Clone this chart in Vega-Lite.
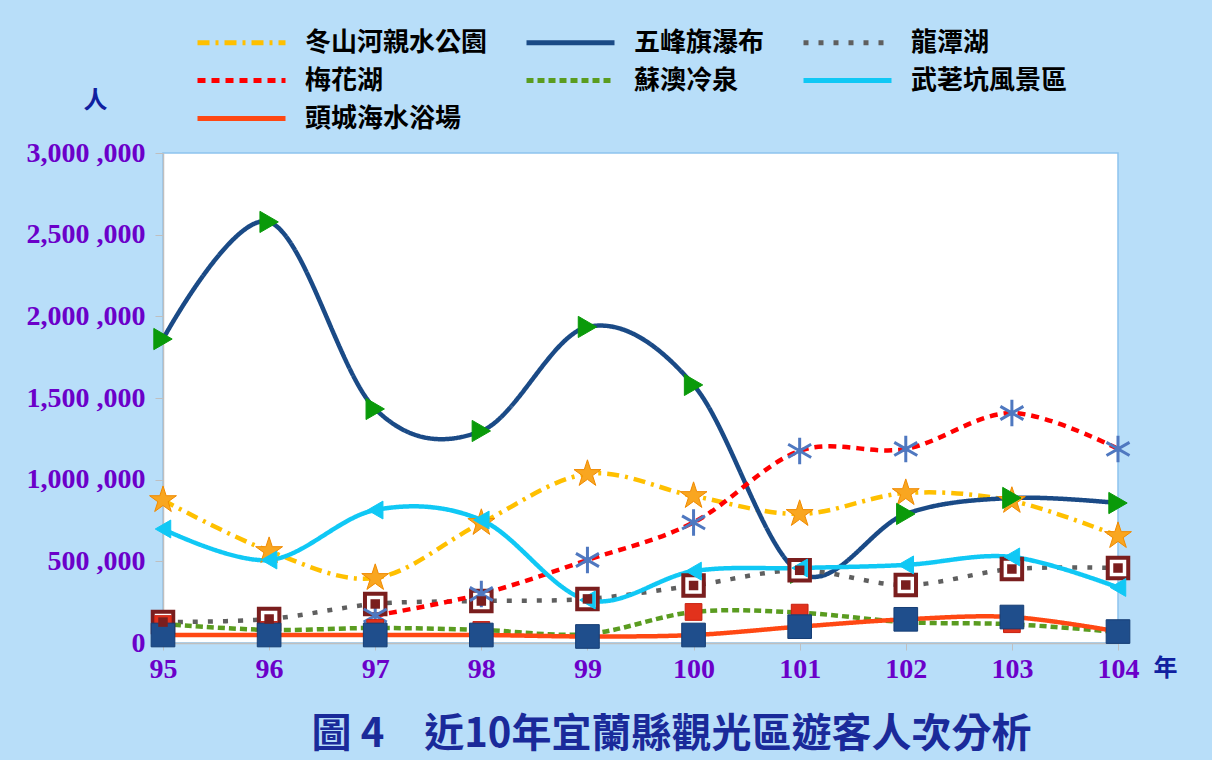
{
  "$schema": "https://vega.github.io/schema/vega-lite/v6.json",
  "width": 955,
  "height": 490,
  "autosize": {"type": "none"},
  "padding": {"left": 163, "top": 153, "right": 94, "bottom": 117},
  "background": "#B8DEF9",
  "config": {
    "view": {"fill": "white", "stroke": "#8DC4EE", "strokeWidth": 1.5},
    "font": "Liberation Serif"
  },
  "title": {
    "text": "圖 4　近10年宜蘭縣觀光區遊客人次分析",
    "orient": "bottom",
    "anchor": "middle",
    "font": "Noto Sans CJK TC",
    "fontSize": 40,
    "fontWeight": "bold",
    "color": "#1A2A9A",
    "offset": 32,
    "dx": 31
  },
  "data": {
    "values": [
      {"year": 95, "site": "冬山河親水公園", "v": 875000},
      {"year": 96, "site": "冬山河親水公園", "v": 563000},
      {"year": 97, "site": "冬山河親水公園", "v": 398000},
      {"year": 98, "site": "冬山河親水公園", "v": 735000},
      {"year": 99, "site": "冬山河親水公園", "v": 1035000},
      {"year": 100, "site": "冬山河親水公園", "v": 900000},
      {"year": 101, "site": "冬山河親水公園", "v": 790000},
      {"year": 102, "site": "冬山河親水公園", "v": 918000},
      {"year": 103, "site": "冬山河親水公園", "v": 870000},
      {"year": 104, "site": "冬山河親水公園", "v": 655000},
      {"year": 95, "site": "五峰旗瀑布", "v": 1861000},
      {"year": 96, "site": "五峰旗瀑布", "v": 2578000},
      {"year": 97, "site": "五峰旗瀑布", "v": 1433000},
      {"year": 98, "site": "五峰旗瀑布", "v": 1298000},
      {"year": 99, "site": "五峰旗瀑布", "v": 1935000},
      {"year": 100, "site": "五峰旗瀑布", "v": 1580000},
      {"year": 101, "site": "五峰旗瀑布", "v": 430000},
      {"year": 102, "site": "五峰旗瀑布", "v": 790000},
      {"year": 103, "site": "五峰旗瀑布", "v": 888000},
      {"year": 104, "site": "五峰旗瀑布", "v": 857000},
      {"year": 95, "site": "龍潭湖", "v": 128000},
      {"year": 96, "site": "龍潭湖", "v": 147000},
      {"year": 97, "site": "龍潭湖", "v": 239000},
      {"year": 98, "site": "龍潭湖", "v": 257000},
      {"year": 99, "site": "龍潭湖", "v": 270000},
      {"year": 100, "site": "龍潭湖", "v": 352000},
      {"year": 101, "site": "龍潭湖", "v": 445000},
      {"year": 102, "site": "龍潭湖", "v": 355000},
      {"year": 103, "site": "龍潭湖", "v": 453000},
      {"year": 104, "site": "龍潭湖", "v": 459000},
      {"year": 97, "site": "梅花湖", "v": 168000},
      {"year": 98, "site": "梅花湖", "v": 300000},
      {"year": 99, "site": "梅花湖", "v": 508000},
      {"year": 100, "site": "梅花湖", "v": 738000},
      {"year": 101, "site": "梅花湖", "v": 1176000},
      {"year": 102, "site": "梅花湖", "v": 1188000},
      {"year": 103, "site": "梅花湖", "v": 1408000},
      {"year": 104, "site": "梅花湖", "v": 1188000},
      {"year": 95, "site": "蘇澳冷泉", "v": 116000},
      {"year": 96, "site": "蘇澳冷泉", "v": 80000},
      {"year": 97, "site": "蘇澳冷泉", "v": 92000},
      {"year": 98, "site": "蘇澳冷泉", "v": 80000},
      {"year": 99, "site": "蘇澳冷泉", "v": 55000},
      {"year": 100, "site": "蘇澳冷泉", "v": 190000},
      {"year": 101, "site": "蘇澳冷泉", "v": 186000},
      {"year": 102, "site": "蘇澳冷泉", "v": 128000},
      {"year": 103, "site": "蘇澳冷泉", "v": 115000},
      {"year": 104, "site": "蘇澳冷泉", "v": 67000},
      {"year": 95, "site": "武荖坑風景區", "v": 698000},
      {"year": 96, "site": "武荖坑風景區", "v": 508000},
      {"year": 97, "site": "武荖坑風景區", "v": 814000},
      {"year": 98, "site": "武荖坑風景區", "v": 753000},
      {"year": 99, "site": "武荖坑風景區", "v": 263000},
      {"year": 100, "site": "武荖坑風景區", "v": 440000},
      {"year": 101, "site": "武荖坑風景區", "v": 459000},
      {"year": 102, "site": "武荖坑風景區", "v": 478000},
      {"year": 103, "site": "武荖坑風景區", "v": 527000},
      {"year": 104, "site": "武荖坑風景區", "v": 340000},
      {"year": 95, "site": "頭城海水浴場", "v": 49000},
      {"year": 96, "site": "頭城海水浴場", "v": 49000},
      {"year": 97, "site": "頭城海水浴場", "v": 49000},
      {"year": 98, "site": "頭城海水浴場", "v": 49000},
      {"year": 99, "site": "頭城海水浴場", "v": 40000},
      {"year": 100, "site": "頭城海水浴場", "v": 49000},
      {"year": 101, "site": "頭城海水浴場", "v": 100000},
      {"year": 102, "site": "頭城海水浴場", "v": 145000},
      {"year": 103, "site": "頭城海水浴場", "v": 159000},
      {"year": 104, "site": "頭城海水浴場", "v": 70000}
    ]
  },
  "encoding": {
    "x": {
      "field": "year",
      "type": "quantitative",
      "scale": {"domain": [95, 104], "nice": false, "zero": false},
      "axis": {
        "values": [95, 96, 97, 98, 99, 100, 101, 102, 103, 104],
        "format": "d",
        "grid": false,
        "labelFlush": false,
        "labelFont": "Liberation Serif",
        "labelFontSize": 28,
        "labelFontWeight": "bold",
        "labelColor": "#6B00C9",
        "labelPadding": 5,
        "tickColor": "#BFBFBF",
        "tickSize": 7,
        "domainColor": "#BFBFBF",
        "domainWidth": 1.5,
        "title": "年",
        "titleFont": "Noto Sans CJK TC",
        "titleFontSize": 24,
        "titleFontWeight": "bold",
        "titleColor": "#1020A0",
        "titleAngle": 0,
        "titleX": 1002,
        "titleY": 25,
        "titleAlign": "center",
        "titleBaseline": "middle"
      }
    },
    "y": {
      "field": "v",
      "type": "quantitative",
      "scale": {"domain": [0, 3000000], "nice": false},
      "axis": {
        "values": [0, 500000, 1000000, 1500000, 2000000, 2500000, 3000000],
        "labelExpr": "replace(format(datum.value, ','), /,(\\d{3})$/, ' ,$1')",
        "grid": false,
        "labelFlush": false,
        "labelFont": "Liberation Serif",
        "labelFontSize": 28,
        "labelFontWeight": "bold",
        "labelColor": "#6B00C9",
        "labelPadding": 10,
        "tickColor": "#BFBFBF",
        "tickSize": 8,
        "domainColor": "#BFBFBF",
        "domainWidth": 1.5,
        "title": "人",
        "titleFont": "Noto Sans CJK TC",
        "titleFontSize": 24,
        "titleFontWeight": "bold",
        "titleColor": "#1020A0",
        "titleAngle": 0,
        "titleX": -68,
        "titleY": -53,
        "titleAlign": "center",
        "titleBaseline": "middle"
      }
    }
  },
  "layer": [
    {
      "mark": {"type": "line", "interpolate": "cardinal", "strokeWidth": 4.5, "clip": false},
      "encoding": {
        "color": {
          "field": "site",
          "type": "nominal",
          "scale": {
            "domain": ["冬山河親水公園", "五峰旗瀑布", "龍潭湖", "梅花湖", "蘇澳冷泉", "武荖坑風景區", "頭城海水浴場"],
            "range": ["#FFC000", "#1A4A86", "#5F5F5F", "#FF0000", "#5A9C20", "#10C8F5", "#FF4813"]
          },
          "legend": {
            "title": null,
            "orient": "none",
            "legendX": 65,
            "legendY": -124,
            "padding": 0,
            "columns": 3,
            "direction": "horizontal",
            "symbolType": "M-4,0H4",
            "symbolSize": 484,
            "symbolStrokeWidth": 5,
            "symbolFillColor": "transparent",
            "labelFont": "Noto Sans CJK TC",
            "labelFontSize": 26,
            "labelFontWeight": "bold",
            "labelColor": "#000000",
            "labelOffset": 50,
            "labelLimit": 400,
            "columnPadding": 28,
            "rowPadding": 11
          }
        },
        "strokeDash": {
          "field": "site",
          "type": "nominal",
          "scale": {
            "domain": ["冬山河親水公園", "五峰旗瀑布", "龍潭湖", "梅花湖", "蘇澳冷泉", "武荖坑風景區", "頭城海水浴場"],
            "range": [[12, 6, 3, 6], [1, 0], [5, 10], [8, 6], [7, 4], [1, 0], [1, 0]]
          },
          "legend": {
            "title": null,
            "orient": "none",
            "legendX": 65,
            "legendY": -124,
            "padding": 0,
            "columns": 3,
            "direction": "horizontal",
            "symbolType": "M-4,0H4",
            "symbolSize": 484,
            "symbolStrokeWidth": 5,
            "symbolFillColor": "transparent",
            "labelFont": "Noto Sans CJK TC",
            "labelFontSize": 26,
            "labelFontWeight": "bold",
            "labelColor": "#000000",
            "labelOffset": 50,
            "labelLimit": 400,
            "columnPadding": 28,
            "rowPadding": 11
          }
        }
      }
    },
    {
      "mark": {"type": "point", "filled": true, "opacity": 1, "clip": false},
      "encoding": {
        "shape": {
          "field": "site",
          "type": "nominal",
          "scale": {
            "domain": ["頭城海水浴場", "武荖坑風景區", "蘇澳冷泉", "梅花湖", "龍潭湖", "五峰旗瀑布", "冬山河親水公園"],
            "range": [
              "square",
              "triangle-left",
              "square",
              "M0,-1L0,1M-0.87,-0.5L0.87,0.5M-0.87,0.5L0.87,-0.5",
              "square",
              "triangle-right",
              "M0,-1L0.2245,-0.309L0.951,-0.309L0.363,0.118L0.588,0.809L0,0.382L-0.588,0.809L-0.363,0.118L-0.951,-0.309L-0.2245,-0.309Z"
            ]
          },
          "legend": null
        },
        "fill": {
          "field": "site",
          "type": "nominal",
          "scale": {
            "domain": ["頭城海水浴場", "武荖坑風景區", "蘇澳冷泉", "梅花湖", "龍潭湖", "五峰旗瀑布", "冬山河親水公園"],
            "range": ["#1F4E8C", "#10C8F5", "#E2321C", "transparent", "#FFFFFF", "#0A9A0A", "#F9A620"]
          },
          "legend": null
        },
        "stroke": {
          "field": "site",
          "type": "nominal",
          "scale": {
            "domain": ["頭城海水浴場", "武荖坑風景區", "蘇澳冷泉", "梅花湖", "龍潭湖", "五峰旗瀑布", "冬山河親水公園"],
            "range": ["#163E75", "#10C8F5", "#C82010", "#4F78C0", "#7A1E1E", "#0A9A0A", "#F08A00"]
          },
          "legend": null
        },
        "strokeWidth": {
          "field": "site",
          "type": "nominal",
          "scale": {
            "type": "ordinal",
            "domain": ["頭城海水浴場", "武荖坑風景區", "蘇澳冷泉", "梅花湖", "龍潭湖", "五峰旗瀑布", "冬山河親水公園"],
            "range": [1, 1, 1, 3, 4, 1, 1]
          },
          "legend": null
        },
        "size": {
          "field": "site",
          "type": "nominal",
          "scale": {
            "type": "ordinal",
            "domain": ["頭城海水浴場", "武荖坑風景區", "蘇澳冷泉", "梅花湖", "龍潭湖", "五峰旗瀑布", "冬山河親水公園"],
            "range": [560, 320, 280, 700, 420, 450, 800]
          },
          "legend": null
        }
      }
    },
    {
      "transform": [{"filter": "datum.site == '龍潭湖'"}],
      "mark": {"type": "square", "size": 90, "color": "#7A1E1E", "opacity": 1, "clip": false},
      "encoding": {}
    }
  ]
}
